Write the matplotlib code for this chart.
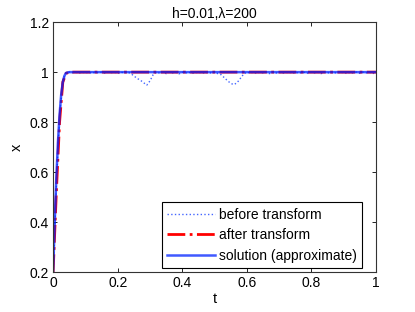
import numpy as np
import matplotlib
matplotlib.use('Agg')
import matplotlib.pyplot as plt

plt.rcParams['font.family'] = ['Liberation Sans', 'DejaVu Sans']

# time grid with step h=0.01
t_grid = np.round(np.arange(101) * 0.01, 2)

x_before = [0.2, 0.55, 0.82, 0.97, 0.996,
            1.0, 0.998, 1.0, 0.996, 1.0, 0.997, 1.0, 0.995, 1.0, 0.997,
            1.0, 0.996, 1.0, 0.998, 1.0, 0.995, 1.0, 0.997, 1.0,
            0.995, 0.985, 0.975, 0.968, 0.958, 0.948, 0.965, 0.99,
            1.0, 0.996, 1.0, 0.994, 1.0, 0.997, 1.0, 0.993, 1.0, 0.996,
            1.0, 0.994, 1.0, 0.997, 1.0, 0.995, 1.0, 0.996, 1.0, 0.994,
            0.99, 0.978, 0.966, 0.955, 0.95, 0.958, 0.975, 0.992,
            1.0, 0.996, 1.0, 0.995, 1.0, 0.997, 1.0, 0.994, 1.0, 0.996,
            1.0, 0.995, 1.0, 0.997, 1.0, 0.994, 1.0, 0.996, 1.0, 0.995,
            1.0, 0.997, 1.0, 0.994, 1.0, 0.996, 1.0, 0.995, 1.0, 0.997,
            1.0, 0.994, 1.0, 0.996, 1.0, 0.995, 1.0, 0.997, 1.0, 0.994, 1.0]

x_after = [0.2, 0.52, 0.8, 0.96, 0.995] + [1.0] * 96

t_sol = [0, 0.005, 0.01, 0.015, 0.02, 0.025, 0.03, 0.035, 0.04, 0.05, 1.0]
x_sol = [0.2, 0.4, 0.58, 0.72, 0.83, 0.91, 0.96, 0.985, 0.997, 1.0, 1.0]

fig = plt.figure(figsize=(4.15, 3.12), dpi=100)
ax = fig.add_axes([0.128, 0.128, 0.778, 0.801])

ax.plot(t_grid, x_before, ':', color='#4466ff', linewidth=1.0, label='before transform')
ax.plot(t_grid, x_after, '-.', color='red', linewidth=2.0, label='after transform')
ax.plot(t_sol, x_sol, '-', color='#0022ff', linewidth=1.8, alpha=0.75, label='solution (approximate)')

ax.set_xlim(0, 1)
ax.set_ylim(0.2, 1.2)
ax.set_xticks([0, 0.2, 0.4, 0.6, 0.8, 1])
ax.set_xticklabels(['0', '0.2', '0.4', '0.6', '0.8', '1'])
ax.set_yticks([0.2, 0.4, 0.6, 0.8, 1.0, 1.2])
ax.set_yticklabels(['0.2', '0.4', '0.6', '0.8', '1', '1.2'])
ax.tick_params(direction='in', top=True, right=True, labelsize=10, length=3, width=0.6, pad=3)
for s in ax.spines.values():
    s.set_linewidth(0.8)
    s.set_color('#333333')

ax.set_title('h=0.01,\u03bb=200', fontsize=10, pad=3)
ax.set_xlabel('t', fontsize=10.5, labelpad=1)
ax.set_ylabel('x', fontsize=10.5, labelpad=4)

leg = ax.legend(loc='lower right', bbox_to_anchor=(0.957, 0.016), fontsize=10,
                fancybox=False, framealpha=1, edgecolor='black', handlelength=3.4,
                borderpad=0.4, labelspacing=0.45, handletextpad=0.3, borderaxespad=0)
leg.get_frame().set_linewidth(0.8)

fig.savefig('out.png', dpi=100)
